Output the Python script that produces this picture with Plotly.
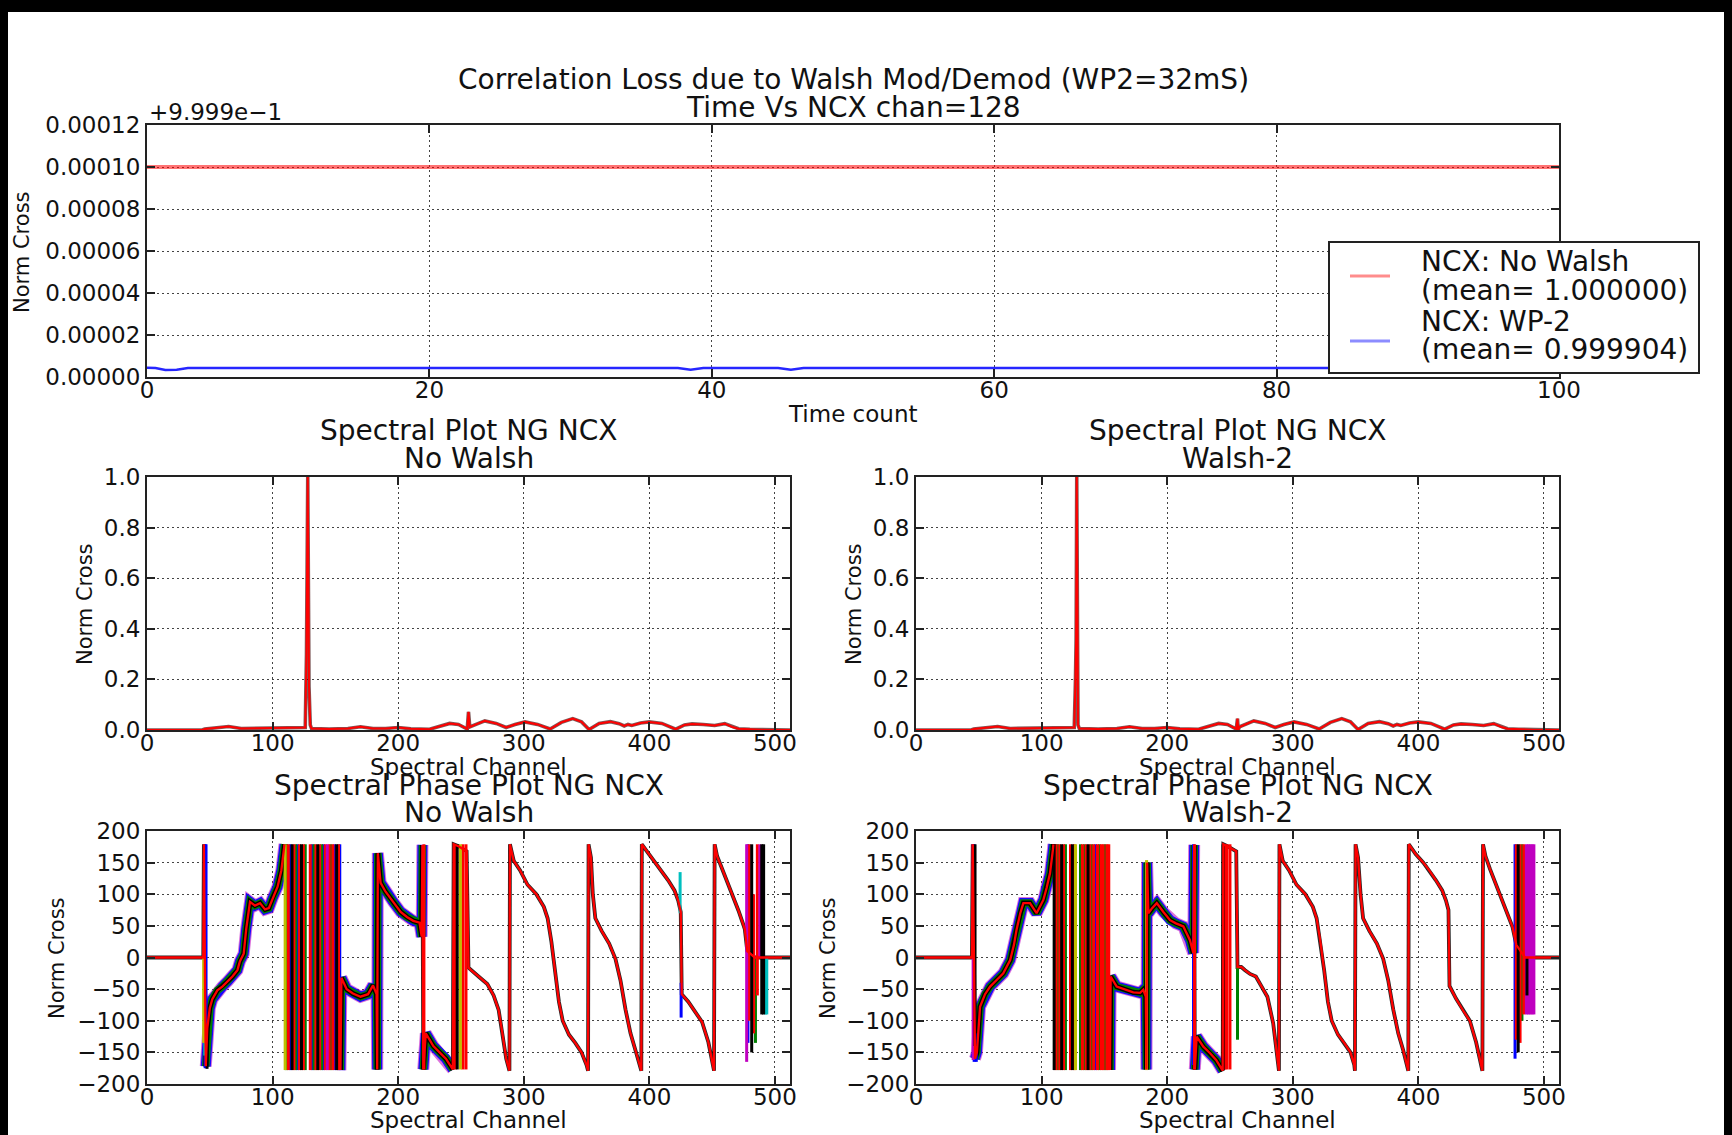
import plotly.graph_objects as go

W, H = 1732, 1135
FONT = "DejaVu Sans"
TXT = "#111111"

# ------------------------------------------------------------------ data
# Top panel: normalised cross correlation at channel 128 versus time count
time_ticks = [0, 20, 40, 60, 80, 100]
ncx_tickvals = [0.9999, 0.99992, 0.99994, 0.99996, 0.99998, 1.0, 1.00002]
ncx_ticktext = ["0.00000", "0.00002", "0.00004", "0.00006", "0.00008", "0.00010", "0.00012"]
ncx_offset_label = "+9.999e\u22121"

nowalsh_t = [0, 100]
nowalsh_v = [1.0, 1.0]
wp2_t = [0, 0.6, 1.3, 2.1, 2.9, 37.6, 38.5, 39.4, 44.7, 45.6, 46.5, 100]
wp2_v = [0.9999044, 0.9999043, 0.9999033, 0.9999035, 0.9999043, 0.9999043,
         0.9999034, 0.9999043, 0.9999043, 0.9999034, 0.9999043, 0.9999043]
legend_lines = ["NCX: No Walsh", "(mean= 1.000000)", "NCX: WP-2", "(mean= 0.999904)"]

# Spectral axes
chan_ticks = [0, 100, 200, 300, 400, 500]
amp_ticks = [0.0, 0.2, 0.4, 0.6, 0.8, 1.0]
phase_ticks = [-200, -150, -100, -50, 0, 50, 100, 150, 200]

# Spectral amplitude, No Walsh
amp_nw_ch = [0, 44, 46, 55, 65, 75, 90, 100, 110, 120, 126, 127, 128, 129, 130, 131,
             145, 160, 170, 180, 190, 200, 210, 225, 235, 241, 248, 253, 255, 256, 257,
             262, 269, 278, 286, 293, 301, 311, 321, 330, 339, 346, 352, 360, 369, 376,
             380, 383, 386, 393, 400, 410, 416, 421, 428, 434, 443, 452, 460, 466, 471,
             480, 490, 493, 512]
amp_nw_v = [0, 0, 0.004, 0.008, 0.014, 0.006, 0.007, 0.008, 0.006, 0.008, 0.01, 0.3,
            1.0, 0.17, 0.02, 0.006, 0.004, 0.006, 0.013, 0.006, 0.006, 0.01, 0.005,
            0.003, 0.016, 0.026, 0.022, 0.01, 0.004, 0.072, 0.012, 0.022, 0.036, 0.026,
            0.01, 0.022, 0.032, 0.022, 0.004, 0.03, 0.045, 0.032, 0.002, 0.026, 0.033,
            0.025, 0.016, 0.022, 0.018, 0.028, 0.032, 0.026, 0.014, 0.003, 0.02, 0.024,
            0.022, 0.018, 0.025, 0.012, 0.005, 0.003, 0.002, 0, 0]

# Spectral amplitude, Walsh-2
amp_w2_ch = [0, 44, 46, 55, 65, 75, 90, 100, 110, 120, 126, 127, 127.5, 128, 129,
             130, 145, 160, 170, 180, 190, 200, 210, 225, 235, 241, 248, 253, 255,
             256, 256.6, 257.5, 262, 269, 278, 286, 293, 301, 311, 321, 330, 339, 346,
             352, 360, 369, 376, 380, 383, 386, 393, 400, 410, 416, 421, 428, 434, 443,
             452, 460, 466, 471, 480, 490, 493, 512]
amp_w2_v = [0, 0, 0.004, 0.008, 0.014, 0.006, 0.007, 0.008, 0.006, 0.008, 0.01, 0.2,
            0.36, 1.0, 0.02, 0.006, 0.004, 0.006, 0.013, 0.006, 0.006, 0.01, 0.005,
            0.003, 0.016, 0.026, 0.022, 0.01, 0.004, 0.045, 0.0, 0.012, 0.022, 0.036,
            0.026, 0.01, 0.022, 0.032, 0.022, 0.004, 0.03, 0.045, 0.032, 0.002, 0.026,
            0.033, 0.025, 0.016, 0.022, 0.018, 0.028, 0.032, 0.026, 0.014, 0.003, 0.02,
            0.024, 0.022, 0.018, 0.025, 0.012, 0.005, 0.003, 0.002, 0, 0]

# Spectral phase, No Walsh (None = break where the dense wrap block sits)
ph_nw_ch = [0, 44.8, 45.3, 46.8, 48, 50, 52, 56, 60, 64, 68, 72, 74, 77, 79, 82, 86,
            90, 94, 97, 100, 104, 107, 109, 109.5, None, 154, 154.8, 159, 164, 170,
            176, 180, 182.8, 183.3, 183.8, 186, 190, 196, 202, 207, 212, 217, 218.7,
            219.3, 220, 222, 228, 233, 238, 243.5, 244.2, 248, 252, 254.5, 256, 258,
            264, 271, 276, 280, 283, 286, 288.6, 289, 292, 297, 303, 310, 316, 319,
            322, 325, 328, 331, 336, 341, 346, 350, 351.2, 351.6, 353.5, 355, 357,
            362, 368, 373, 377, 381, 385, 389, 393.6, 394, 400, 405, 410, 415, 420,
            423, 425, 425.8, 431, 437, 442, 447, 451.5, 452, 454, 458, 462, 466, 471,
            476, 478, 484, 512]
ph_nw_v = [0, 0, 179, -172, -112, -80, -66, -52, -46, -38, -30, -20, -6, 6, 45, 88, 82,
           86, 76, 78, 94, 112, 138, 172, 179, None, -178, -32, -50, -57, -62, -58,
           -44, -58, -177, 165, 118, 104, 88, 72, 64, 58, 55, 33, 178, -177, -120,
           -140, -150, -160, -177, 179, 176, 171, 168, -16, -20, -30, -42, -60, -83,
           -120, -160, -179, 179, 153, 138, 115, 100, 80, 62, 25, -20, -70, -100,
           -122, -135, -150, -170, -179, 179, 158, 100, 62, 42, 22, -2, -36, -82,
           -120, -147, -179, 179, 163, 150, 137, 122, 106, 90, 72, -58, -70, -88,
           -102, -134, -179, 179, 160, 140, 120, 100, 74, 45, 10, 0, 0]

# Spectral phase, Walsh-2
ph_w2_ch = [0, 44.5, 45.2, 47, 48.5, 51, 55, 59, 64, 69.5, 75, 78, 80, 83, 85.5, 90.8,
            96, 101.4, 104, 106.7, 109, 109.4, None, 154.5, 155, 159.8, 167.8, 173,
            178.4, 181, 183, 183.5, 184, 185, 188, 191.7, 197, 202.3, 207, 212.9,
            218.2, 220.8, 221.5, 222, 223.5, 228.8, 234, 239, 244.2, 244.7, 248, 252,
            255, 256, 259, 262, 266, 270.6, 275, 279.8, 284.4, 287, 289, 289.4, 292,
            297, 303, 310, 316, 319, 322, 325, 328, 331, 336, 341, 346, 349, 349.5,
            350, 352, 354, 356, 361, 367, 372, 376, 380, 384, 388, 392, 392.4, 398,
            404, 409, 414, 419, 422, 424, 424.8, 430, 436, 441, 446, 451, 451.5,
            453.5, 457, 461, 465, 470, 475, 478, 485, 512]
ph_w2_v = [0, 0, 179, -160, -150, -78, -58, -46, -36, -25, -4, 20, 43, 70, 86, 86, 70,
           91, 110, 133, 170, 179, None, -178, -30, -46, -51, -55, -56, -51, -62,
           -177, 150, 70, 78, 86, 72, 59, 54, 49, 27, 7, 178, -177, -125, -141, -151,
           -162, -179, 179, 176, 171, 168, -15, -15, -20, -26, -30, -45, -62, -104,
           -150, -179, 179, 153, 138, 115, 100, 80, 62, 25, -20, -70, -100, -122,
           -135, -150, -170, -179, 179, 158, 100, 62, 42, 22, -2, -36, -82, -120,
           -147, -179, 179, 163, 150, 137, 122, 106, 90, 75, -45, -65, -85, -100,
           -134, -179, 179, 160, 140, 120, 100, 74, 48, 20, 0, 0]

# Channel ranges where the individual time samples scatter widely
noisy_nw = [(45.5, 109.5), (154, 219.5), (220, 244)]
noisy_w2 = [(45.5, 109.4), (154.5, 221.5), (222, 244.5)]

# Individual time-sample wraps (vertical strokes): channel, low, high, sample index
st_nw_ch = [110, 111, 112.5, 114, 115.5, 117, 118.5, 120, 121.5, 123, 124.5, 126, 130,
            131.5, 133, 134.5, 136, 137.5, 139, 140.5, 142, 143.5, 145, 146.5, 148,
            149.5, 151, 152.5, 153.5,
            45.1, 46, 46.3, 47, 47.8, 219.8, 220.5, 245.5, 247, 249.5, 251.5, 254,
            424.5, 425.3,
            477.5, 478.5, 479.5, 481.5, 483, 484.5, 486, 488, 489.5, 491, 492.5, 493.5]
st_nw_lo = [-178] * 29 + [-135, -155, -175, -175, -176, 33, -177, -177, -177, -177,
                          -177, -177, 70, -95,
                          -165, -135, -100, -150, -120, -135, -60, 0, -90, -90, -90, -90]
st_nw_hi = [179] * 29 + [0, -120, 179, 179, -110, 178, 179, 179, 179, 179, 179, 179,
                         135, -40,
                         179, 179, 179, 179, 100, 0, 179, 179, 179, 179, 0, 0]
st_nw_s = [5, 1, 2, 0, 6, 2, 1, 0, 2, 6, 2, 1, 2, 0, 1, 2, 6, 2, 1, 0, 2, 4, 2, 1, 2,
           0, 6, 2, 0,
           5, 3, 0, 0, 6, 0, 2, 2, 6, 5, 2, 2, 3, 0,
           4, 0, 2, 6, 2, 1, 2, 4, 6, 6, 3, 3]

st_w2_ch = [110, 111.5, 113, 114.5, 116, 117.5, 119, 123, 124.5, 126, 127, 131, 132.5,
            134, 135.5, 137, 138.5, 140, 141.5, 143, 144.5, 146, 147.5, 149, 150.5,
            152, 153.5,
            45.5, 46.3, 47, 48, 183.6, 221, 221.8, 244.5, 246, 247.5, 250, 256,
            477, 478, 479.5, 481, 482.5, 484, 486, 487.5, 489, 490.5, 492, 486.5]
st_w2_lo = [-178] * 27 + [-162, -165, -140, -165, -178, -170, -177, -177, -177, -177,
                          -177, -130,
                          -160, -130, -150, -135, -100, -90, -90, -90, -90, -90, -90, -60]
st_w2_hi = [179] * 27 + [179, 179, 179, -120, 154, 179, 179, 179, 179, 179, 179, -15,
                         179, 179, 179, 179, 179, 179, 179, 179, 179, 179, 179, 0]
st_w2_s = [6, 2, 1, 2, 6, 2, 1, 2, 6, 2, 5, 1, 2, 1, 2, 6, 2, 1, 2, 0, 2, 1, 2, 2, 1,
           2, 2,
           4, 0, 6, 0, 5, 0, 2, 6, 2, 2, 2, 1,
           0, 2, 6, 2, 1, 2, 4, 4, 4, 4, 4, 6]

# matplotlib classic colour cycle for the time samples
cycle = ["#0000ff", "#008000", "#ff0000", "#00bfbf", "#bf00bf", "#bfbf00", "#000000"]

# ------------------------------------------------------------------ helpers
def px(x):
    return x / W


def py(y):
    return 1 - y / H


def ann(text, x, y, size, xa="center", ya="middle", angle=0):
    return dict(text=text, x=px(x), y=py(y), xref="paper", yref="paper",
                xanchor=xa, yanchor=ya, showarrow=False, textangle=angle,
                font=dict(family=FONT, size=size, color=TXT))


def subset(chs, vals, ranges):
    xs, ys = [], []
    for lo, hi in ranges:
        for c, v in zip(chs, vals):
            if c is not None and lo <= c <= hi:
                xs.append(c)
                ys.append(v)
        xs.append(None)
        ys.append(None)
    return xs, ys


fig = go.Figure()


def line(xa, ya, x, y, color, width, opacity=1.0):
    fig.add_trace(go.Scatter(x=x, y=y, mode="lines", xaxis=xa, yaxis=ya,
                             line=dict(color=color, width=width), opacity=opacity,
                             showlegend=False, hoverinfo="skip", connectgaps=False))


# top panel
line("x", "y", nowalsh_t, nowalsh_v, "rgba(255,0,0,0.55)", 4)
line("x", "y", wp2_t, wp2_v, "rgba(0,0,255,0.85)", 2.5)

# amplitude panels
for xa, ya, ch, v in (("x2", "y2", amp_nw_ch, amp_nw_v), ("x3", "y3", amp_w2_ch, amp_w2_v)):
    line(xa, ya, ch, v, "#3a0000", 3.6, 0.65)
    line(xa, ya, ch, v, "#ff0000", 2.0)

# phase panels
for xa, ya, ch, v, noisy, sc, slo, shi, ss in (
        ("x4", "y4", ph_nw_ch, ph_nw_v, noisy_nw, st_nw_ch, st_nw_lo, st_nw_hi, st_nw_s),
        ("x5", "y5", ph_w2_ch, ph_w2_v, noisy_w2, st_w2_ch, st_w2_lo, st_w2_hi, st_w2_s)):
    nx, ny = subset(ch, v, noisy)
    line(xa, ya, nx, ny, "#bf00bf", 12, 0.55)
    line(xa, ya, nx, ny, "#0000ff", 10, 0.9)
    line(xa, ya, nx, ny, "#008000", 7.5)
    line(xa, ya, nx, ny, "#000000", 5)
    line(xa, ya, ch, v, "#000000", 3.8, 0.85)
    for k in range(len(cycle)):
        xs, ys = [], []
        for c, lo, hi, s in zip(sc, slo, shi, ss):
            if s == k:
                xs += [c, c, None]
                ys += [lo, hi, None]
        if xs:
            line(xa, ya, xs, ys, cycle[k], 3)
    line(xa, ya, ch, v, "#ff0000", 2.3)

# ------------------------------------------------------------------ axes
XT, XL, XR = [147 / W, 1559 / W], [147 / W, 790 / W], [916 / W, 1559 / W]
YT, YM, YB = [1 - 377 / H, 1 - 125 / H], [1 - 730 / H, 1 - 477 / H], [1 - 1084 / H, 1 - 831 / H]


def axis(domain, anchor, rng, tickvals, ticktext=None, fmt=None, standoff=0):
    d = dict(domain=domain, anchor=anchor, range=rng, tickmode="array",
             tickvals=tickvals, showline=True, linecolor="#222222", linewidth=2,
             mirror="ticks", ticks="inside", ticklen=8, tickwidth=1.5,
             tickcolor="#222222", showgrid=True, gridcolor="#444444",
             griddash="1.5px,3.5px", gridwidth=1, zeroline=False,
             ticklabelstandoff=standoff,
             tickfont=dict(family=FONT, size=23, color=TXT))
    if ticktext is not None:
        d["ticktext"] = ticktext
    if fmt is not None:
        d["tickformat"] = fmt
    return d


XS, YSO = -9, 0
fig.update_layout(
    width=W, height=H, margin=dict(l=0, r=0, t=0, b=0),
    paper_bgcolor="white", plot_bgcolor="white", template="none",
    xaxis=axis(XT, "y", [0, 100], time_ticks, standoff=XS),
    yaxis=axis(YT, "x", [0.9999, 1.00002], ncx_tickvals, ncx_ticktext, standoff=YSO),
    xaxis2=axis(XL, "y2", [0, 512], chan_ticks, standoff=XS),
    yaxis2=axis(YM, "x2", [0, 1.0], amp_ticks, fmt=".1f", standoff=YSO),
    xaxis3=axis(XR, "y3", [0, 512], chan_ticks, standoff=XS),
    yaxis3=axis(YM, "x3", [0, 1.0], amp_ticks, fmt=".1f", standoff=YSO),
    xaxis4=axis(XL, "y4", [0, 512], chan_ticks, standoff=XS),
    yaxis4=axis(YB, "x4", [-200, 200], phase_ticks, standoff=YSO),
    xaxis5=axis(XR, "y5", [0, 512], chan_ticks, standoff=XS),
    yaxis5=axis(YB, "x5", [-200, 200], phase_ticks, standoff=YSO),
)

# ------------------------------------------------------------------ texts
annots = [
    ann("Correlation Loss due to Walsh Mod/Demod (WP2=32mS)", 853, 79.5, 28),
    ann("Time Vs NCX chan=128", 853, 107, 28),
    ann(ncx_offset_label, 147, 111.5, 23, xa="left"),
    ann("Time count", 853, 414, 23),
    ann("Norm Cross", 22, 252, 21, angle=-90),
    ann("Spectral Plot NG NCX", 468.5, 431, 28),
    ann("No Walsh", 468.5, 459, 28),
    ann("Spectral Plot NG NCX", 1237.5, 431, 28),
    ann("Walsh-2", 1237.5, 459, 28),
    ann("Norm Cross", 85, 604, 21, angle=-90),
    ann("Norm Cross", 854, 604, 21, angle=-90),
    ann("Spectral Channel", 468.5, 767, 23),
    ann("Spectral Channel", 1237.5, 767, 23),
    ann("Spectral Phase Plot NG NCX", 468.5, 785, 28),
    ann("No Walsh", 468.5, 813, 28),
    ann("Spectral Phase Plot NG NCX", 1237.5, 785, 28),
    ann("Walsh-2", 1237.5, 813, 28),
    ann("Norm Cross", 57, 958, 21, angle=-90),
    ann("Norm Cross", 828, 958, 21, angle=-90),
    ann("Spectral Channel", 468.5, 1120, 23),
    ann("Spectral Channel", 1237.5, 1120, 23),
]
for txt, yy in zip(legend_lines, [262, 290.5, 321.5, 350]):
    annots.append(ann(txt, 1419, yy, 28, xa="left"))
fig.update_layout(annotations=annots)

shapes = [
    # legend frame and samples
    dict(type="rect", xref="paper", yref="paper", x0=px(1329), x1=px(1699), y0=py(373),
         y1=py(242), line=dict(color="#222222", width=2), fillcolor="white", layer="above"),
    dict(type="line", xref="paper", yref="paper", x0=px(1350), x1=px(1390), y0=py(276),
         y1=py(276), line=dict(color="rgba(255,0,0,0.45)", width=3), layer="above"),
    dict(type="line", xref="paper", yref="paper", x0=px(1350), x1=px(1390), y0=py(341),
         y1=py(341), line=dict(color="rgba(0,0,255,0.45)", width=3), layer="above"),
    # black window frame
    dict(type="rect", xref="paper", yref="paper", x0=0, x1=1, y0=py(12), y1=1,
         line=dict(width=0), fillcolor="black", layer="above"),
    dict(type="rect", xref="paper", yref="paper", x0=0, x1=px(8), y0=0, y1=1,
         line=dict(width=0), fillcolor="black", layer="above"),
    dict(type="rect", xref="paper", yref="paper", x0=px(1724), x1=1, y0=0, y1=1,
         line=dict(width=0), fillcolor="black", layer="above"),
]
fig.update_layout(shapes=shapes)

fig.write_html("out.html",
               config={"displayModeBar": False},
               post_script="document.body.style.margin='0px';"
                           "document.body.style.overflow='hidden';")
